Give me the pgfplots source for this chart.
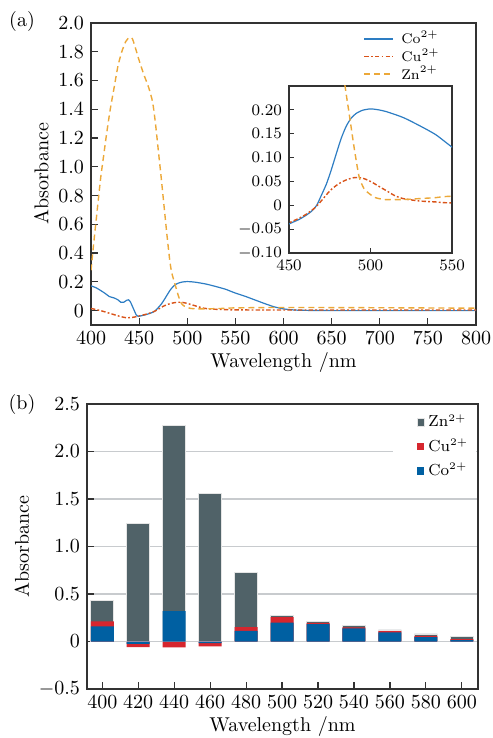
\documentclass[border=0pt]{standalone}
\usepackage{pgfplots}
\usepackage{pgfplotstable}
\pgfplotsset{compat=1.18}
\definecolor{cocolor}{RGB}{45,125,195}
\definecolor{cucolor}{RGB}{217,83,25}
\definecolor{zncolor}{RGB}{236,168,56}
\definecolor{znbar}{RGB}{80,98,104}
\definecolor{cubar}{RGB}{214,38,46}
\definecolor{cobar}{RGB}{0,96,162}
\definecolor{gridc}{RGB}{200,203,206}
\definecolor{framec}{RGB}{50,50,50}

\pgfplotstableread{
x y
400 0.172
405 0.160
410 0.140
415 0.118
419 0.098
424 0.088
428 0.075
431 0.058
434 0.058
437 0.072
439 0.075
441 0.060
443 0.030
445 0.000
447 -0.030
449 -0.040
452 -0.036
456 -0.030
460 -0.022
464 -0.012
467 0.000
470 0.022
473 0.045
476 0.075
479 0.108
482 0.140
485 0.165
488 0.182
491 0.192
495 0.199
500 0.202
505 0.200
510 0.196
520 0.184
530 0.167
540 0.148
550 0.122
560 0.100
570 0.075
580 0.050
590 0.027
600 0.012
610 0.005
620 0.002
650 0.000
700 0.000
800 0.000
}\cotable

\pgfplotstableread{
x y
400 0.015
410 0.000
420 -0.020
430 -0.040
437 -0.050
445 -0.045
450 -0.037
455 -0.029
460 -0.020
466 -0.005
470 0.010
475 0.030
480 0.044
485 0.053
490 0.058
495 0.057
500 0.050
505 0.040
510 0.030
515 0.020
520 0.014
530 0.009
540 0.007
550 0.005
600 0.004
700 0.004
800 0.004
}\cutable

\pgfplotstableread{
x y
400 0.28
403 0.48
406 0.67
410 0.92
413 1.07
416 1.22
420 1.40
424 1.55
428 1.70
432 1.80
436 1.87
440 1.90
443 1.89
446 1.83
450 1.74
455 1.64
460 1.55
464 1.45
467 1.30
470 1.11
473 0.92
476 0.72
479 0.52
482 0.34
484 0.26
487 0.19
490 0.12
493 0.06
496 0.035
499 0.025
503 0.016
509 0.012
520 0.012
530 0.014
540 0.016
550 0.019
600 0.022
700 0.020
800 0.017
}\zntable

\pgfplotstableread{
x top cocu co
400 0.436 0.211 0.158
420 1.243 -0.060 -0.025
440 2.274 -0.063 0.320
460 1.560 -0.050 -0.018
480 0.730 0.151 0.113
500 0.275 0.257 0.200
520 0.208 0.197 0.183
540 0.166 0.148 0.137
560 0.123 0.109 0.095
580 0.081 0.060 0.046
600 0.050 0.024 0.014
}\bartable

\begin{document}
\begin{tikzpicture}
\path[use as bounding box] (0,0) rectangle (246pt,369pt);

\begin{axis}[
  at={(45.5pt,206.5pt)}, anchor=south west, scale only axis,
  width=192.5pt, height=151pt,
  xmin=400, xmax=800, ymin=-0.1, ymax=2.0,
  xtick={400,450,500,550,600,650,700,750,800},
  ytick={0,0.2,0.4,0.6,0.8,1.0,1.2,1.4,1.6,1.8,2.0},
  yticklabels={$0$,$0.2$,$0.4$,$0.6$,$0.8$,$1.0$,$1.2$,$1.4$,$1.6$,$1.8$,$2.0$},
  tick pos=left, tick align=inside, major tick length=3.5pt,
  axis line style={line width=0.7pt, framec},
  tick style={line width=0.6pt, framec},
  xlabel={Wavelength /nm}, ylabel={Absorbance},
  xlabel style={yshift=3pt},
  ylabel style={yshift=-2pt},
  legend style={at={(0.93,0.995)}, anchor=north east, draw=none, fill=none,
    font=\fontsize{7}{7.5}\selectfont, row sep=-3pt, inner sep=1pt,
    nodes={inner xsep=3.5pt}},
  legend cell align=left,
  legend image code/.code={\draw[#1, line width=0.9pt] (0pt,0pt) -- (14.5pt,0pt);},
]
\addplot[color=cocolor, line width=0.6pt, smooth, tension=0.4] table[x=x,y=y] {\cotable};
\addlegendentry{Co$^{\scriptscriptstyle 2+}$}
\addplot[color=cucolor, draw=cucolor, line width=0.7pt, smooth, tension=0.4, dash pattern=on 2.2pt off 1.1pt on 0.9pt off 1.1pt] table[x=x,y=y] {\cutable};
\addlegendentry{Cu$^{\scriptscriptstyle 2+}$}
\addplot[color=zncolor, line width=0.7pt, smooth, tension=0.4, dash pattern=on 3pt off 2pt] table[x=x,y=y] {\zntable};
\addlegendentry{Zn$^{\scriptscriptstyle 2+}$}
\end{axis}

\begin{axis}[
  at={(144.5pt,242.5pt)}, anchor=south west, scale only axis,
  width=81.5pt, height=83.5pt,
  xmin=450, xmax=550, ymin=-0.1, ymax=0.25,
  xtick={450,500,550},
  ytick={-0.1,-0.05,0,0.05,0.1,0.15,0.2},
  yticklabels={$-0.10$,$-0.05$,$0$,$0.05$,$0.10$,$0.15$,$0.20$},
  tick label style={font=\footnotesize},
  axis background/.style={fill=white},
  tick pos=left, tick align=inside, major tick length=2.5pt,
  axis line style={line width=0.6pt, framec},
  tick style={line width=0.5pt, framec},
]
\addplot[color=cocolor, line width=0.6pt, smooth, tension=0.4] table[x=x,y=y] {\cotable};
\addplot[color=cucolor, line width=0.7pt, smooth, tension=0.4, dash pattern=on 2.2pt off 1.1pt on 0.9pt off 1.1pt] table[x=x,y=y] {\cutable};
\addplot[color=zncolor, line width=0.7pt, smooth, tension=0.4, dash pattern=on 3pt off 2pt] table[x=x,y=y] {\zntable};
\end{axis}

\node at (11pt,358pt) {(a)};

\begin{axis}[
  at={(43.5pt,24.5pt)}, anchor=south west, scale only axis,
  width=195.5pt, height=142.5pt,
  xmin=391.5, xmax=609, ymin=-0.5, ymax=2.5,
  xtick={400,420,440,460,480,500,520,540,560,580,600},
  ytick={-0.5,0,0.5,1.0,1.5,2.0,2.5},
  yticklabels={$-0.5$,$0$,$0.5$,$1.0$,$1.5$,$2.0$,$2.5$},
  ymajorgrids, grid style={gridc, line width=0.6pt},
  tick pos=left, tick align=inside, major tick length=3.5pt,
  axis line style={line width=0.7pt, framec},
  tick style={line width=0.6pt, framec},
  xlabel={Wavelength /nm}, ylabel={Absorbance},
  xlabel style={yshift=3pt},
  ylabel style={yshift=-2pt},
  legend style={at={(0.837,0.985)}, anchor=north west, draw=none, fill=none,
    font=\footnotesize, row sep=0.5pt, inner sep=1pt},
  legend cell align=left,
  legend image code/.code={\fill[#1] (0pt,-1.8pt) rectangle (3.6pt,1.8pt);},
]
\fill[white] (rel axis cs:0.783,0.995) rectangle (rel axis cs:0.995,0.77);
\addplot[ybar, bar width=12.8, bar shift=0pt, fill=znbar, draw=white!80!gray, line width=0.3pt] table[x=x,y=top] {\bartable};
\addlegendentry{Zn$^{\scriptscriptstyle 2+}$}
\addplot[ybar, bar width=12.8, bar shift=0pt, fill=cubar, draw=none] table[x=x,y=cocu] {\bartable};
\addlegendentry{Cu$^{\scriptscriptstyle 2+}$}
\addplot[ybar, bar width=12.8, bar shift=0pt, fill=cobar, draw=none] table[x=x,y=co] {\bartable};
\addlegendentry{Co$^{\scriptscriptstyle 2+}$}
\end{axis}

\node at (11pt,166.5pt) {(b)};
\end{tikzpicture}
\end{document}
